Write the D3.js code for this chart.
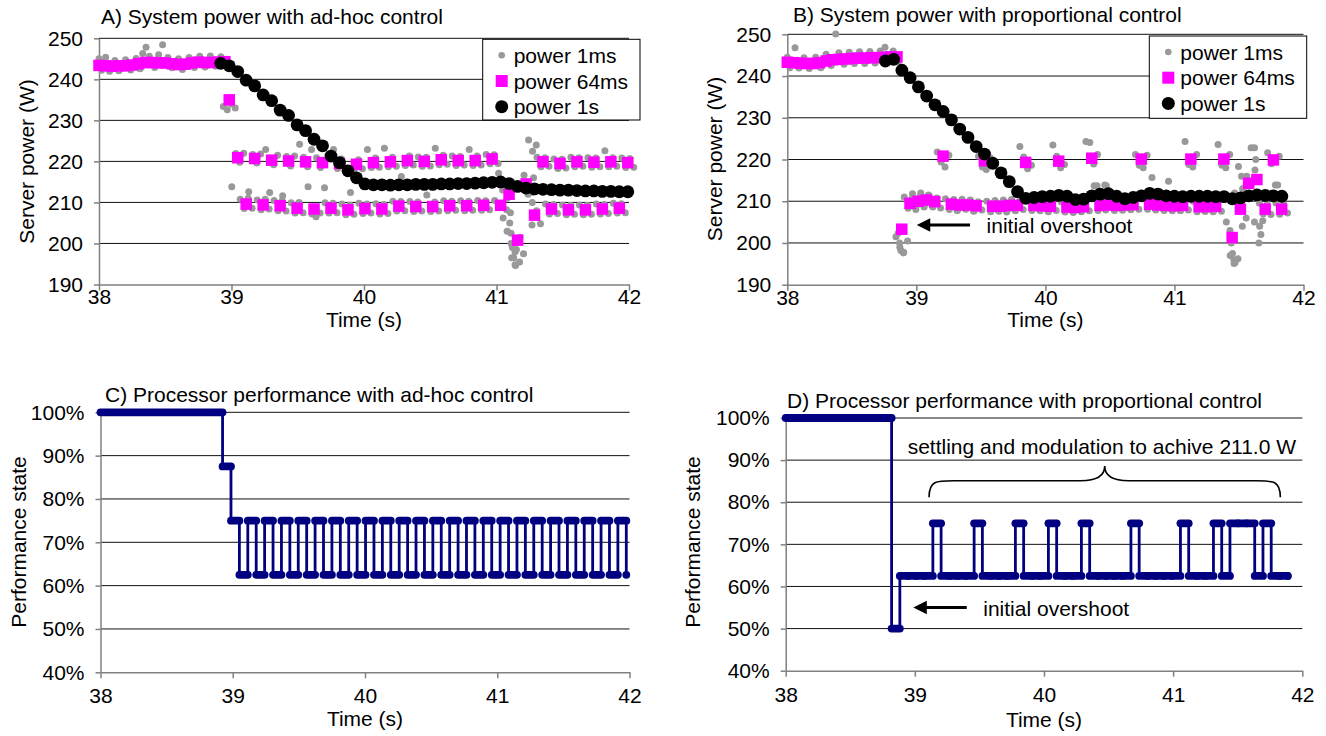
<!DOCTYPE html>
<html>
<head>
<meta charset="utf-8">
<script src="https://cdn.jsdelivr.net/npm/d3@7"></script>
<style>
  body { margin: 0; background: #fff; }
  text { font-family: "Liberation Sans", Arial, Helvetica, sans-serif; }
</style>
</head>
<body>
<svg id="chart" width="1326" height="736"></svg>
<script>
// ---------- shared ----------
const timeTicks = [38, 39, 40, 41, 42];
const powerTicks = [190, 200, 210, 220, 230, 240, 250];
const perfTicks = [40, 50, 60, 70, 80, 90, 100];
const step64 = 0.064;                              // 64 ms sample interval (s)
const cloudOffsets = [-0.045, -0.015, 0.015, 0.045]; // where the 1ms readings of a 64ms window sit

// ---------- A) ad-hoc control, power ----------
const aStart1s = 38.919;
const a1s = [243.9, 243.3, 241.9, 239.8, 238.4, 236.2, 234.8, 232.5, 231.2, 228.9,
  227.5, 225.4, 223.8, 221.3, 219.7, 217.7, 216.0, 214.5, 214.3, 214.3,
  214.2, 214.3, 214.3, 214.4, 214.4, 214.4, 214.5, 214.5, 214.6, 214.6,
  214.7, 214.8, 214.9, 215.0, 214.6, 213.9, 213.5, 213.3, 213.2, 213.1,
  213.0, 213.0, 212.9, 212.8, 212.8, 212.7, 212.7, 212.6, 212.6];
const aStart64 = 38.983;
const a64 = [235.0, 220.9, 209.6, 220.7, 209.4, 220.3, 209.2, 220.1, 208.6, 219.9,
  208.4, 219.7, 208.6, 219.5, 208.2, 219.3, 208.5, 219.7, 208.4, 219.9,
  209.1, 220.2, 209.0, 220.0, 209.0, 220.4, 209.2, 220.2, 209.2, 220.2,
  209.3, 220.6, 209.3, 212.0, 200.8, 214.5, 206.9, 219.9, 208.4, 219.5,
  208.2, 219.9, 208.2, 219.8, 208.4, 219.9, 208.6, 219.7];
const aPre64 = [[38.00, 243.4], [38.05, 243.3], [38.10, 243.2], [38.15, 243.3], [38.20, 243.3],
  [38.25, 243.5], [38.30, 243.8], [38.35, 244.1], [38.40, 244.1], [38.45, 244.0],
  [38.50, 244.0], [38.55, 243.8], [38.60, 243.6], [38.65, 243.7], [38.70, 244.0],
  [38.75, 244.2], [38.80, 244.1], [38.85, 244.1], [38.90, 244.2], [38.95, 244.3]];
const aPre1ms = [[38.00, 245.0], [38.02, 242.2], [38.05, 245.4], [38.08, 242.0], [38.12, 244.6],
  [38.15, 242.1], [38.20, 244.8], [38.24, 242.3], [38.28, 245.1], [38.31, 242.6],
  [38.33, 246.3], [38.355, 247.8], [38.38, 245.6], [38.42, 242.9], [38.45, 246.0],
  [38.48, 248.4], [38.52, 245.3], [38.55, 242.8], [38.60, 245.0], [38.63, 242.4],
  [38.68, 245.3], [38.72, 242.9], [38.76, 245.6], [38.80, 243.0], [38.84, 245.7],
  [38.88, 243.2], [38.92, 245.5], [38.95, 243.4]];
const a1msCloud = [
  [233.4, 232.6, 234.0, 233.0], [213.8, 221.9, 219.8, 222.0], [210.8, 208.5, 211.0, 208.6],
  [212.6, 221.7, 219.6, 221.8], [210.6, 208.2, 210.8, 208.4], [222.9, 212.4, 219.2, 221.5],
  [210.5, 208.0, 210.4, 207.9], [211.6, 221.2, 218.9, 221.3], [209.9, 207.4, 210.0, 207.5],
  [224.2, 221.0, 218.7, 222.9], [213.8, 207.2, 206.5, 207.4], [220.9, 218.5, 213.6, 220.8],
  [209.9, 207.4, 209.8, 207.5], [222.9, 218.3, 220.6, 218.4], [209.6, 207.0, 209.4, 207.1],
  [212.4, 218.1, 220.4, 218.2], [209.8, 207.3, 209.6, 207.4], [222.9, 218.5, 220.8, 218.6],
  [209.7, 207.2, 209.5, 207.3], [223.2, 218.7, 221.0, 218.8], [210.3, 207.9, 210.2, 208.0],
  [216.3, 219.0, 221.3, 219.1], [210.2, 207.8, 210.1, 207.9], [221.1, 218.8, 221.0, 218.9],
  [211.8, 207.8, 210.1, 207.9], [223.2, 219.2, 221.5, 219.3], [210.4, 208.0, 210.3, 208.1],
  [221.3, 219.0, 221.2, 219.1], [210.4, 208.0, 210.3, 208.1], [222.9, 219.0, 221.3, 219.1],
  [210.5, 208.1, 210.4, 208.2], [221.7, 219.4, 221.6, 219.5], [210.5, 217.1, 213.0, 208.2],
  [206.2, 203.0, 200.0, 198.0], [196.5, 194.6, 195.5, 197.5], [201.5, 216.6, 212.0, 204.5],
  [225.2, 222.5, 208.0, 204.8], [221.0, 218.7, 220.9, 218.8], [209.6, 207.2, 209.5, 207.3],
  [220.6, 218.3, 220.5, 218.4], [209.4, 207.0, 209.3, 207.1], [221.0, 218.7, 220.9, 218.8],
  [209.4, 207.0, 209.3, 207.1], [220.9, 218.6, 220.8, 218.7], [209.6, 207.2, 209.5, 207.3],
  [222.6, 218.7, 220.9, 218.8], [209.8, 207.4, 209.7, 207.5], [220.8, 218.5, 220.7, 218.6]];
const a1msExtra = [[41.10, 205.0], [41.11, 202.5], [41.12, 199.0], [41.13, 196.5], [41.14, 194.8],
  [41.15, 198.5], [41.105, 207.5], [41.27, 210.0], [41.275, 212.5], [41.28, 216.0],
  [41.30, 224.0], [41.06, 215.0], [41.08, 211.0]];

// ---------- B) proportional control, power ----------
const bStart1s = 38.76;
const b1s = [243.6, 244.0, 241.4, 239.6, 237.4, 235.2, 233.1, 231.5, 229.5, 227.3,
  225.3, 223.1, 221.3, 219.1, 216.8, 214.7, 212.3, 210.7, 210.9, 211.1,
  211.2, 211.4, 211.2, 210.4, 210.5, 211.3, 211.7, 211.8, 211.2, 210.6,
  210.9, 211.3, 211.9, 211.7, 211.3, 211.2, 211.1, 211.2, 211.2, 211.2,
  211.1, 211.1, 210.6, 210.8, 211.3, 211.5, 211.4, 211.3, 211.2];
const bStart64 = 38.887;
const b64 = [203.3, 209.5, 210.0, 210.3, 209.9, 220.8, 209.3, 209.1, 209.1, 208.9,
  219.7, 208.8, 208.8, 209.0, 209.0, 219.3, 209.0, 208.9, 208.8, 219.6,
  208.6, 208.5, 208.7, 220.3, 209.0, 209.1, 209.0, 209.1, 209.2, 220.1,
  209.3, 209.1, 209.0, 208.9, 209.0, 220.1, 208.7, 208.7, 208.8, 220.1,
  201.3, 208.1, 214.3, 215.2, 208.1, 219.9, 208.1];
const bPre64 = [[38.00, 243.3], [38.05, 243.2], [38.10, 243.1], [38.15, 243.0], [38.20, 243.0],
  [38.25, 243.2], [38.30, 243.6], [38.35, 243.9], [38.40, 244.0], [38.45, 244.1],
  [38.50, 244.2], [38.55, 244.3], [38.60, 244.3], [38.65, 244.4], [38.70, 244.4],
  [38.75, 244.5], [38.80, 244.6], [38.85, 244.6]];
const bPre1ms = [[38.00, 244.5], [38.02, 242.0], [38.06, 246.8], [38.09, 241.9], [38.13, 244.4],
  [38.17, 241.8], [38.22, 244.5], [38.26, 242.0], [38.30, 245.2], [38.34, 242.5],
  [38.375, 250.1], [38.40, 245.6], [38.44, 242.8], [38.48, 245.7], [38.52, 243.0],
  [38.56, 245.8], [38.60, 243.0], [38.64, 245.9], [38.68, 243.1], [38.72, 246.0],
  [38.757, 246.9], [38.78, 243.3], [38.82, 246.0], [38.86, 243.4]];
const b1msCloud = [
  [201.5, 199.0, 197.8, 200.5], [211.0, 208.3, 210.6, 208.0], [211.8, 209.0, 211.2, 208.6],
  [212.0, 209.2, 211.5, 208.9], [211.4, 208.6, 210.8, 208.4], [221.8, 219.4, 218.2, 221.0],
  [210.6, 208.0, 210.2, 207.8], [210.4, 207.9, 210.0, 208.2], [210.5, 208.1, 210.2, 207.6],
  [210.3, 207.7, 209.9, 207.9], [220.8, 218.2, 217.6, 220.4], [210.0, 207.5, 209.8, 207.7],
  [210.2, 207.6, 209.7, 207.4], [210.3, 207.8, 210.1, 207.9], [210.4, 207.7, 210.0, 208.0],
  [223.1, 220.6, 217.8, 218.6], [210.4, 207.8, 210.1, 207.9], [210.2, 207.7, 209.9, 207.6],
  [210.1, 207.5, 209.8, 207.8], [223.5, 220.8, 218.0, 218.8], [209.9, 207.4, 209.6, 207.5],
  [209.8, 207.3, 209.7, 207.6], [210.0, 207.5, 209.8, 207.7], [224.3, 224.1, 218.9, 221.2],
  [213.7, 207.8, 210.2, 207.9], [210.5, 213.7, 210.2, 208.0], [210.3, 207.8, 210.1, 207.9],
  [210.4, 207.9, 210.2, 208.0], [210.6, 208.0, 210.3, 208.1], [221.2, 218.6, 218.0, 221.0],
  [210.6, 208.1, 210.4, 208.2], [215.7, 207.9, 210.2, 208.0], [210.3, 207.8, 210.1, 207.9],
  [214.8, 207.7, 210.0, 207.8], [210.3, 207.8, 210.1, 207.9], [224.3, 218.8, 218.2, 221.2],
  [210.0, 207.5, 209.8, 207.6], [210.1, 207.6, 209.7, 207.5], [210.2, 207.7, 209.9, 207.6],
  [223.6, 218.6, 218.0, 221.2], [205.0, 197.0, 195.1, 196.2], [212.0, 218.3, 204.0, 206.0],
  [213.0, 216.0, 211.8, 205.0], [222.8, 217.5, 200.0, 205.3], [209.5, 207.0, 209.2, 206.8],
  [221.6, 219.0, 213.9, 220.8], [209.6, 206.9, 209.3, 207.2]];
const b1msExtra = [[38.86, 202.4], [38.87, 200.0], [38.88, 198.2], [38.90, 197.6],
  [41.43, 203.0], [41.44, 200.0], [41.45, 197.5], [41.46, 196.0], [41.47, 195.3],
  [41.52, 216.0], [41.53, 213.0], [41.62, 222.8], [41.63, 220.0], [41.66, 204.0],
  [41.67, 202.0], [40.40, 213.7], [40.46, 213.9], [41.80, 213.9]];

// ---------- C) ad-hoc control, performance state ----------
const cPre = [[38.0, 100], [38.923, 100]];
const cStart = 38.923, cStep = 0.0636;
const cPerf = [87.5, 75, 62.5, 75, 62.5, 75, 62.5, 75, 62.5, 75,
  62.5, 75, 62.5, 75, 62.5, 75, 62.5, 75, 62.5, 75,
  62.5, 75, 62.5, 75, 62.5, 75, 62.5, 75, 62.5, 75,
  62.5, 75, 62.5, 75, 62.5, 75, 62.5, 75, 62.5, 75,
  62.5, 75, 62.5, 75, 62.5, 75, 62.5, 75, 62.5];

// ---------- D) proportional control, performance state ----------
const dPre = [[38.0, 100], [38.82, 100]];
const dStart = 38.82, dStep = 0.0639;
const dPerf = [50, 62.5, 62.5, 62.5, 62.5, 75, 62.5, 62.5, 62.5, 62.5,
  75, 62.5, 62.5, 62.5, 62.5, 75, 62.5, 62.5, 62.5, 75,
  62.5, 62.5, 62.5, 75, 62.5, 62.5, 62.5, 62.5, 62.5, 75,
  62.5, 62.5, 62.5, 62.5, 62.5, 75, 62.5, 62.5, 62.5, 75,
  62.5, 75, 75, 75, 62.5, 75, 62.5, 62.5, 62.5];

const legendItems = ["power 1ms", "power 64ms", "power 1s"];

// ---------- drawing ----------
const svg = d3.select("#chart");
const FONT_SIZE = 21;

function label(g, txt, x, y, opts = {}) {
  const t = g.append("text").attr("x", x).attr("y", y)
    .attr("font-size", FONT_SIZE).attr("fill", "#000")
    .attr("text-anchor", opts.anchor || "start").text(txt);
  if (opts.rotate) t.attr("transform", `rotate(-90,${x},${y})`);
  return t;
}

function drawFrame(p) {
  const g = svg.append("g");
  const [x0, x1] = p.x.range();
  const yBottom = p.y.range()[0];

  g.selectAll("line.grid").data(p.yTicks.slice(1)).enter().append("line")
    .attr("x1", x0).attr("x2", x1)
    .attr("y1", d => p.y(d)).attr("y2", d => p.y(d))
    .attr("stroke", "#111").attr("stroke-width", 1);

  const ya = g.append("g").attr("transform", `translate(${x0},0)`)
    .call(d3.axisLeft(p.y).tickValues(p.yTicks).tickFormat(p.yFormat)
      .tickSize(5).tickSizeOuter(0).tickPadding(11));
  const xa = g.append("g").attr("transform", `translate(0,${yBottom})`)
    .call(d3.axisBottom(p.x).tickValues(timeTicks).tickFormat(d3.format("d"))
      .tickSize(6).tickSizeOuter(0).tickPadding(p.xPad));
  [ya, xa].forEach(a => {
    a.select(".domain").attr("stroke", "#808080").attr("stroke-width", 1.5);
    a.selectAll(".tick line").attr("stroke", "#808080").attr("stroke-width", 1.5);
    a.selectAll("text").attr("font-size", FONT_SIZE).attr("fill", "#000")
      .attr("font-family", '"Liberation Sans", Arial, sans-serif');
  });

  label(g, p.title, p.titlePos[0], p.titlePos[1]);
  label(g, p.yTitle, p.yTitlePos[0], p.yTitlePos[1], { anchor: "middle", rotate: true });
  label(g, "Time (s)", (x0 + x1) / 2, p.xTitleY, { anchor: "middle" });
  return g;
}

function drawPower(p) {
  const g = drawFrame(p);

  const gray = p.pre1ms.slice();
  p.cloud.forEach((vals, k) => {
    const t = p.start64 + k * step64;
    vals.forEach((v, i) => gray.push([t + cloudOffsets[i], v]));
  });
  p.extra.forEach(d => gray.push(d));
  g.append("g").selectAll("circle").data(gray).enter().append("circle")
    .attr("cx", d => p.x(d[0])).attr("cy", d => p.y(d[1]))
    .attr("r", 3.5).attr("fill", "#999999");

  const squares = p.pre64.concat(p.p64.map((v, k) => [p.start64 + k * step64, v]));
  g.append("g").selectAll("rect").data(squares).enter().append("rect")
    .attr("x", d => p.x(d[0]) - 5.75).attr("y", d => p.y(d[1]) - 5.75)
    .attr("width", 11.5).attr("height", 11.5).attr("fill", "#ff00ff");

  const black = p.p1s.map((v, k) => [p.start1s + k * step64, v]);
  g.append("g").selectAll("circle").data(black).enter().append("circle")
    .attr("cx", d => p.x(d[0])).attr("cy", d => p.y(d[1]))
    .attr("r", 6.4).attr("fill", "#000");

  // legend
  const L = p.legend;
  const lg = g.append("g");
  lg.append("rect").attr("x", L.x).attr("y", L.y).attr("width", L.w).attr("height", L.h)
    .attr("fill", "#fff").attr("stroke", "#000").attr("stroke-width", 1);
  legendItems.forEach((name, i) => {
    const cy = L.y + 16 + i * 25.7;
    const sx = L.x + 19;
    if (i === 0) lg.append("circle").attr("cx", sx).attr("cy", cy).attr("r", 3.3).attr("fill", "#999999");
    if (i === 1) lg.append("rect").attr("x", sx - 6).attr("y", cy - 6).attr("width", 12).attr("height", 12).attr("fill", "#ff00ff");
    if (i === 2) lg.append("circle").attr("cx", sx).attr("cy", cy).attr("r", 6.5).attr("fill", "#000");
    label(lg, name, sx + 12, cy + 7.5);
  });
  return g;
}

function arrow(g, x, y, t0, t1, tipY, text) {
  const yy = y(tipY), tip = x(t0), base = tip + 13.5, end = x(t1);
  g.append("line").attr("x1", base - 1).attr("x2", end).attr("y1", yy).attr("y2", yy)
    .attr("stroke", "#000").attr("stroke-width", 3);
  g.append("path").attr("d", `M${tip},${yy} L${base},${yy - 6.7} L${base},${yy + 6.7} Z`).attr("fill", "#000");
  label(g, text, end + 16.5, yy + 8);
}

function drawPerf(p) {
  const g = drawFrame(p);
  const navy = "#000080";
  const samples = [p.pre[0]].concat(p.perf.map((v, j) => [p.start + j * p.step, v]));
  const line = d3.line().x(d => p.x(d[0])).y(d => p.y(d[1])).curve(d3.curveStepAfter);

  // thin step line (the vertical transitions)
  g.append("path").attr("d", line(samples))
    .attr("stroke", navy).attr("stroke-width", 2.8).attr("fill", "none");

  // each held level: a run of round markers that merges into a thick bar
  const runs = [p.pre];
  for (let j = 1; j < samples.length; j++) {
    const nextT = j + 1 < samples.length ? samples[j + 1][0] : samples[j][0];
    runs.push([samples[j], [nextT, samples[j][1]]]);
  }
  g.append("g").selectAll("line").data(runs).enter().append("line")
    .attr("x1", d => p.x(d[0][0])).attr("y1", d => p.y(d[0][1]))
    .attr("x2", d => p.x(d[1][0])).attr("y2", d => p.y(d[1][1]))
    .attr("stroke", navy).attr("stroke-width", 7.8).attr("stroke-linecap", "round");
  return g;
}

const powerFmt = d3.format("d");
const perfFmt = d => d + "%";

// A
drawPower({
  x: d3.scaleLinear().domain([38, 42]).range([99, 629]),
  y: d3.scaleLinear().domain([190, 250]).range([284.5, 38.3]),
  yTicks: powerTicks, yFormat: powerFmt, xPad: -1,
  title: "A) System power with ad-hoc control", titlePos: [101, 24],
  yTitle: "Server power (W)", yTitlePos: [34, 161.5], xTitleY: 327,
  start1s: aStart1s, p1s: a1s, start64: aStart64, p64: a64,
  pre64: aPre64, pre1ms: aPre1ms, cloud: a1msCloud, extra: a1msExtra,
  legend: { x: 482.7, y: 39.3, w: 157.3, h: 80.7 }
});

// B
const xB = d3.scaleLinear().domain([38, 42]).range([787.3, 1303.5]);
const yB = d3.scaleLinear().domain([190, 250]).range([284.7, 34.3]);
const gB = drawPower({
  x: xB, y: yB,
  yTicks: powerTicks, yFormat: powerFmt, xPad: -1,
  title: "B) System power with proportional control", titlePos: [793, 22],
  yTitle: "Server power (W)", yTitlePos: [722, 159], xTitleY: 327,
  start1s: bStart1s, p1s: b1s, start64: bStart64, p64: b64,
  pre64: bPre64, pre1ms: bPre1ms, cloud: b1msCloud, extra: b1msExtra,
  legend: { x: 1149.3, y: 36, w: 157.4, h: 82.3 }
});
arrow(gB, xB, yB, 39.003, 39.416, 204.3, "initial overshoot");

// C
drawPerf({
  x: d3.scaleLinear().domain([38, 42]).range([100.5, 629.5]),
  y: d3.scaleLinear().domain([40, 100]).range([672.3, 412.3]),
  yTicks: perfTicks, yFormat: perfFmt, xPad: 10,
  title: "C) Processor performance with ad-hoc control", titlePos: [105, 402],
  yTitle: "Performance state", yTitlePos: [26, 542], xTitleY: 726,
  pre: cPre, start: cStart, step: cStep, perf: cPerf
});

// D
const xD = d3.scaleLinear().domain([38, 42]).range([785.7, 1302.3]);
const yD = d3.scaleLinear().domain([40, 100]).range([670.7, 418]);
const gD = drawPerf({
  x: xD, y: yD,
  yTicks: perfTicks, yFormat: perfFmt, xPad: 10,
  title: "D) Processor performance with proportional control", titlePos: [787, 408],
  yTitle: "Performance state", yTitlePos: [700, 542], xTitleY: 727,
  pre: dPre, start: dStart, step: dStep, perf: dPerf
});
arrow(gD, xD, yD, 38.988, 39.402, 55.0, "initial overshoot");

// brace over the modulation region of D
const braceL = xD(39.11), braceR = xD(41.83), braceM = (braceL + braceR) / 2;
const yEnd = yD(81.2), yMid = yD(85.1), yTip = yD(88.6);
gD.append("path")
  .attr("d", `M${braceL},${yEnd} C${braceL},${yMid - 1} ${braceL + 8},${yMid} ${braceL + 28},${yMid}
    L${braceM - 24},${yMid} C${braceM - 8},${yMid} ${braceM},${yMid - 5} ${braceM},${yTip}
    C${braceM},${yMid - 5} ${braceM + 8},${yMid} ${braceM + 24},${yMid}
    L${braceR - 28},${yMid} C${braceR - 8},${yMid} ${braceR},${yMid - 1} ${braceR},${yEnd}`)
  .attr("fill", "none").attr("stroke", "#000").attr("stroke-width", 1.6);
label(gD, "settling and modulation to achive 211.0 W", 907.7, 454);
</script>
</body>
</html>
